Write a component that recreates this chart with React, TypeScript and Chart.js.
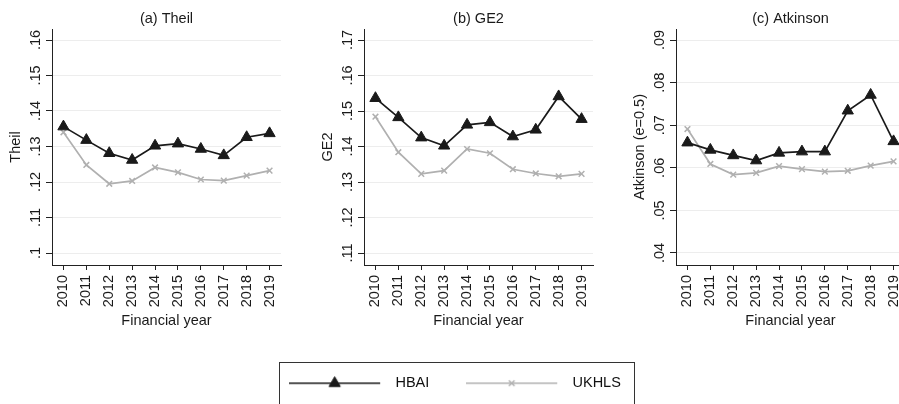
import React, { useEffect, useRef } from 'react';
import { Chart, registerables } from 'chart.js';

Chart.register(...registerables);

const FONT = "'Liberation Sans', Arial, Helvetica, sans-serif";
const FS = 14.5;
const INK = '#1a1a1a';
const GREY = '#b0b0b0';
const AXIS = '#222222';
const GRIDC = '#ededed';

const years = ['2010', '2011', '2012', '2013', '2014', '2015', '2016', '2017', '2018', '2019'];

const theilHBAI = [0.1356, 0.1318, 0.1281, 0.1262, 0.1302, 0.1308, 0.1293, 0.1275, 0.1326, 0.1337];
const theilUKHLS = [0.134, 0.1248, 0.1195, 0.1203, 0.1241, 0.1227, 0.1207, 0.1204, 0.1218, 0.1232];
const theilTicks = [0.1, 0.11, 0.12, 0.13, 0.14, 0.15, 0.16];

const ge2HBAI = [0.1536, 0.1482, 0.1425, 0.1402, 0.1461, 0.1468, 0.1428, 0.1447, 0.1541, 0.1477];
const ge2UKHLS = [0.1484, 0.1384, 0.1323, 0.1332, 0.1393, 0.1381, 0.1336, 0.1324, 0.1316, 0.1323];
const ge2Ticks = [0.11, 0.12, 0.13, 0.14, 0.15, 0.16, 0.17];

const atkHBAI = [0.0659, 0.0642, 0.0629, 0.0617, 0.0635, 0.0638, 0.0638, 0.0734, 0.0771, 0.0662];
const atkUKHLS = [0.0691, 0.0609, 0.0584, 0.0588, 0.0604, 0.0597, 0.0591, 0.0593, 0.0605, 0.0615];
const atkTicks = [0.04, 0.05, 0.06, 0.07, 0.08, 0.09];

const seriesNames = ['HBAI', 'UKHLS'];
const xTitle = 'Financial year';

function fmt(v: number): string {
  return String(Number(v.toFixed(2))).replace(/^0\./, '.');
}

type PanelProps = {
  left: number;
  title: string;
  yTitle: string;
  hbai: number[];
  ukhls: number[];
  ticks: number[];
};

function Panel({ left, title, yTitle, hbai, ukhls, ticks }: PanelProps) {
  const ref = useRef<HTMLCanvasElement>(null);
  useEffect(() => {
    const span = ticks[ticks.length - 1] - ticks[0];
    const chart = new Chart(ref.current as HTMLCanvasElement, {
      type: 'line',
      data: {
        labels: years,
        datasets: [
          {
            label: seriesNames[0],
            data: hbai,
            borderColor: INK,
            backgroundColor: INK,
            borderWidth: 1.7,
            pointStyle: 'triangle',
            pointRadius: 6.5,
            pointBackgroundColor: INK,
            pointBorderColor: INK,
            pointBorderWidth: 1,
          },
          {
            label: seriesNames[1],
            data: ukhls,
            borderColor: GREY,
            backgroundColor: GREY,
            borderWidth: 1.7,
            pointStyle: 'crossRot',
            pointRadius: 4,
            pointBorderColor: GREY,
            pointBorderWidth: 1.5,
          },
        ],
      },
      options: {
        responsive: false,
        animation: false,
        events: [],
        layout: { padding: { left: 0, right: 31, top: 0, bottom: 0 } },
        plugins: { legend: { display: false }, tooltip: { enabled: false } },
        scales: {
          x: {
            type: 'category',
            position: 'bottom',
            offset: true,
            grid: { drawOnChartArea: false, color: AXIS, tickLength: 5 },
            border: { display: true, color: AXIS, width: 1 },
            ticks: {
              minRotation: 90,
              maxRotation: 90,
              padding: 5,
              color: INK,
              font: { family: FONT, size: FS },
              autoSkip: false,
            },
            title: {
              display: true,
              text: xTitle,
              color: INK,
              font: { family: FONT, size: FS },
              padding: { top: 0, bottom: 0 },
            },
            afterFit: (s: any) => {
              s.height = 65;
            },
          },
          t: {
            type: 'category',
            position: 'top',
            grid: { display: false },
            border: { display: false },
            ticks: { display: false },
            title: {
              display: true,
              text: title,
              color: INK,
              font: { family: FONT, size: FS },
              padding: { top: 10.3, bottom: 0 },
            },
            afterFit: (s: any) => {
              s.height = 29;
            },
          },
          y: {
            type: 'linear',
            position: 'left',
            min: ticks[0] - (span * 12) / 213,
            max: ticks[ticks.length - 1] + (span * 11) / 213,
            grid: { color: GRIDC, tickColor: AXIS, tickLength: 6, lineWidth: 1 },
            border: { display: true, color: AXIS, width: 1 },
            ticks: {
              minRotation: 90,
              maxRotation: 90,
              crossAlign: 'center',
              padding: 0,
              color: INK,
              font: { family: FONT, size: FS },
              callback: (v: any) => fmt(Number(v)),
            },
            afterBuildTicks: (s: any) => {
              s.ticks = ticks.map((v) => ({ value: v }));
            },
            title: {
              display: true,
              text: yTitle,
              color: INK,
              font: { family: FONT, size: FS },
              padding: { top: 7, bottom: 0 },
            },
            afterFit: (s: any) => {
              s.width = 52;
            },
          },
        },
      } as any,
    });
    return () => chart.destroy();
  }, []);
  return (
    <canvas
      ref={ref}
      width={312}
      height={330}
      style={{ position: 'absolute', left, top: 0, width: 312, height: 330, display: 'block' }}
    />
  );
}

function makeLegendImage(kind: 'tri' | 'x'): HTMLCanvasElement {
  const c = document.createElement('canvas');
  c.width = 99;
  c.height = 16;
  const g = c.getContext('2d') as CanvasRenderingContext2D;
  const cy = 8;
  const cx = 45.5;
  g.lineWidth = 1.7;
  g.strokeStyle = kind === 'tri' ? INK : GREY;
  g.beginPath();
  g.moveTo(0, cy);
  g.lineTo(91, cy);
  g.stroke();
  if (kind === 'tri') {
    const r = 6.5;
    g.fillStyle = INK;
    g.lineWidth = 1;
    g.beginPath();
    let rad = 0;
    g.moveTo(cx + Math.sin(rad) * r, cy - Math.cos(rad) * r);
    rad += (2 * Math.PI) / 3;
    g.lineTo(cx + Math.sin(rad) * r, cy - Math.cos(rad) * r);
    rad += (2 * Math.PI) / 3;
    g.lineTo(cx + Math.sin(rad) * r, cy - Math.cos(rad) * r);
    g.closePath();
    g.fill();
    g.stroke();
  } else {
    const r = 4;
    const o = Math.cos(Math.PI / 4) * r;
    g.lineWidth = 1.5;
    g.beginPath();
    g.moveTo(cx - o, cy - o);
    g.lineTo(cx + o, cy + o);
    g.moveTo(cx - o, cy + o);
    g.lineTo(cx + o, cy - o);
    g.stroke();
  }
  return c;
}

const legendFrame = {
  id: 'legendFrame',
  afterDraw(chart: any) {
    const hb = chart.legend && chart.legend.legendHitBoxes;
    if (!hb || hb.length < 2) return;
    const ctx = chart.ctx as CanvasRenderingContext2D;
    const l = Math.round(hb[0].left - 10) + 0.5;
    const r = Math.round(hb[1].left + hb[1].width + 13) + 0.5;
    const t = Math.round(hb[0].top - 14) + 0.5;
    ctx.save();
    ctx.strokeStyle = '#333333';
    ctx.lineWidth = 1;
    ctx.strokeRect(l, t, r - l, chart.height);
    ctx.restore();
  },
};

function Legend() {
  const ref = useRef<HTMLCanvasElement>(null);
  useEffect(() => {
    const imgs = [makeLegendImage('tri'), makeLegendImage('x')];
    const colors = [INK, GREY];
    const chart = new Chart(ref.current as HTMLCanvasElement, {
      type: 'line',
      data: {
        labels: [],
        datasets: seriesNames.map((n, i) => ({ label: n, data: [], borderColor: colors[i] })),
      },
      options: {
        responsive: false,
        animation: false,
        events: [],
        layout: { padding: { left: 11, right: 0, top: 0, bottom: 0 } },
        scales: { x: { display: false }, y: { display: false } },
        plugins: {
          tooltip: { enabled: false },
          legend: {
            display: true,
            position: 'top',
            labels: {
              usePointStyle: true,
              pointStyleWidth: 99,
              boxHeight: 14,
              padding: 37,
              color: '#111111',
              font: { family: FONT, size: FS },
              generateLabels: () =>
                seriesNames.map((n, i) => ({
                  text: n,
                  pointStyle: imgs[i],
                  fillStyle: colors[i],
                  strokeStyle: colors[i],
                  lineWidth: 0,
                  hidden: false,
                  datasetIndex: i,
                  fontColor: '#111111',
                })),
            },
          },
        },
      } as any,
      plugins: [legendFrame],
    });
    return () => chart.destroy();
  }, []);
  return (
    <canvas
      ref={ref}
      width={899}
      height={200}
      style={{ position: 'absolute', left: 0, top: 339, width: 899, height: 200, display: 'block' }}
    />
  );
}

export default function App() {
  return (
    <div
      style={{
        position: 'fixed',
        left: 0,
        top: 0,
        width: 899,
        height: 404,
        overflow: 'hidden',
        background: '#ffffff',
      }}
    >
      <Panel left={0} title="(a) Theil" yTitle="Theil" hbai={theilHBAI} ukhls={theilUKHLS} ticks={theilTicks} />
      <Panel left={312} title="(b) GE2" yTitle="GE2" hbai={ge2HBAI} ukhls={ge2UKHLS} ticks={ge2Ticks} />
      <Panel left={624} title="(c) Atkinson" yTitle="Atkinson (e=0.5)" hbai={atkHBAI} ukhls={atkUKHLS} ticks={atkTicks} />
      <Legend />
    </div>
  );
}
